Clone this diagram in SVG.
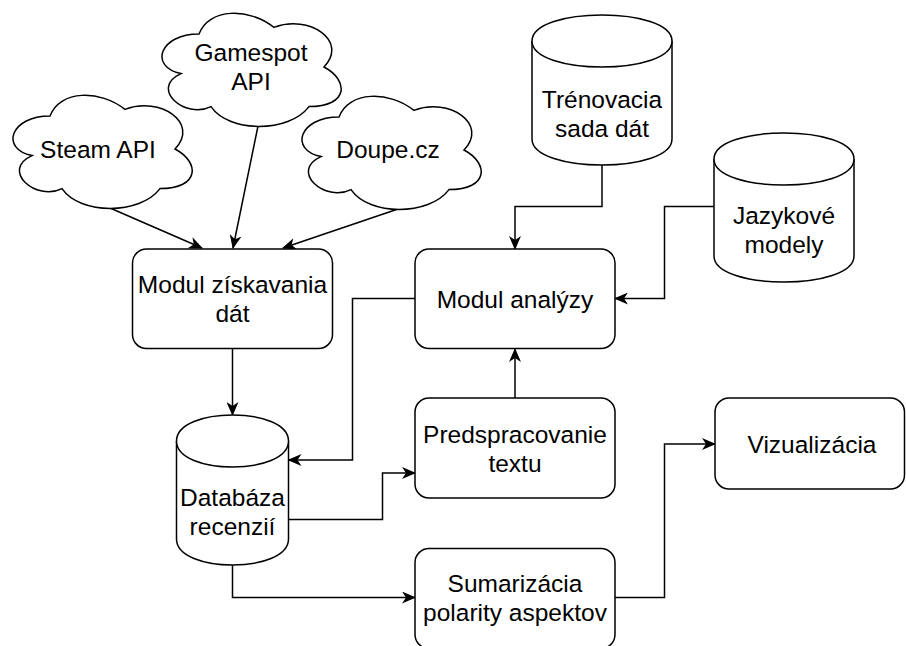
<svg xmlns="http://www.w3.org/2000/svg" width="906" height="646" viewBox="0 0 906 646">
<style>
.shape{fill:#fff;stroke:#000;stroke-width:1.5}
.edge{fill:none;stroke:#000;stroke-width:1.5;marker-end:url(#arr)}
text{font-family:"Liberation Sans",Arial,Helvetica,sans-serif;font-size:24.5px;fill:#000;text-anchor:middle}
</style>
<defs>
<marker id="arr" markerUnits="userSpaceOnUse" viewBox="0 0 14 12" refX="13" refY="6" markerWidth="14" markerHeight="12" orient="auto">
<path d="M0,0 L14,6 L0,12 L4,6 Z" fill="#000"/>
</marker>
<path id="cloud" d="M50,33 C10,33 0,66 32,72.6 C0,87.12 36,118.8 62,105.6 C80,132 140,132 160,105.6 C200,105.6 200,79.2 175,66 C200,39.6 160,13.2 125,26.4 C100,6.6 60,6.6 50,33 Z"/>
</defs>
<g id="connectors">
<path class="edge" d="M110,208 L202,248"/>
<path class="edge" d="M258,126 L233,248"/>
<path class="edge" d="M398,209 L283,248"/>
<path class="edge" d="M232.5,349 V415"/>
<path class="edge" d="M415,298.5 H352.5 V460 H288.5"/>
<path class="edge" d="M288.5,519.5 H382.5 V473 H415"/>
<path class="edge" d="M515,398 V349"/>
<path class="edge" d="M602,165 V206.5 H515 V249"/>
<path class="edge" d="M714,206.5 H664.5 V298.5 H615"/>
<path class="edge" d="M232.5,565 V597.5 H415"/>
<path class="edge" d="M615,597.5 H664.5 V444 H715"/>
</g>
<g id="steam">
<use href="#cloud" class="shape" transform="translate(0,83)"/>
<text x="98" y="157.5">Steam API</text>
</g>
<g id="gamespot">
<use href="#cloud" class="shape" transform="translate(149,1)"/>
<text x="251" y="60.5">Gamespot</text>
<text x="251" y="89.5">API</text>
</g>
<g id="doupe">
<use href="#cloud" class="shape" transform="translate(289,84)"/>
<text x="388" y="158">Doupe.cz</text>
</g>
<g id="ziskavanie">
<rect class="shape" x="132.5" y="249" width="200" height="99.5" rx="14" ry="14"/>
<text x="232.5" y="292.5">Modul získavania</text>
<text x="232.5" y="321.5">dát</text>
</g>
<g id="analyza">
<rect class="shape" x="415" y="249" width="200" height="99.5" rx="14" ry="14"/>
<text x="515" y="307.5">Modul analýzy</text>
</g>
<g id="predspracovanie">
<rect class="shape" x="415" y="398" width="200" height="100" rx="14" ry="14"/>
<text x="515" y="442.5">Predspracovanie</text>
<text x="515" y="471.5">textu</text>
</g>
<g id="sumarizacia">
<rect class="shape" x="415" y="548.5" width="200" height="100" rx="14" ry="14"/>
<text x="515" y="592">Sumarizácia</text>
<text x="515" y="621">polarity aspektov</text>
</g>
<g id="vizualizacia">
<rect class="shape" x="715" y="398" width="189.5" height="91" rx="14" ry="14"/>
<text x="812" y="452.5">Vizualizácia</text>
</g>
<g id="databaza">
<path class="shape" d="M176.5,441 C176.5,406.33 288.5,406.33 288.5,441 L288.5,539 C288.5,573.67 176.5,573.67 176.5,539 Z"/>
<path class="shape" fill="none" d="M176.5,441 C176.5,475.67 288.5,475.67 288.5,441"/>
<text x="232.5" y="505.5">Databáza</text>
<text x="232.5" y="534.5">recenzií</text>
</g>
<g id="trenovacia">
<path class="shape" d="M532,41 C532,6.33 672,6.33 672,41 L672,139 C672,173.67 532,173.67 532,139 Z"/>
<path class="shape" d="M532,41 C532,75.67 672,75.67 672,41"/>
<text x="602" y="108">Trénovacia</text>
<text x="602" y="137">sada dát</text>
</g>
<g id="jazykove">
<path class="shape" d="M714,159 C714,124.33 854,124.33 854,159 L854,256 C854,290.67 714,290.67 714,256 Z"/>
<path class="shape" d="M714,159 C714,193.67 854,193.67 854,159"/>
<text x="784" y="224">Jazykové</text>
<text x="784" y="253">modely</text>
</g>
</svg>
